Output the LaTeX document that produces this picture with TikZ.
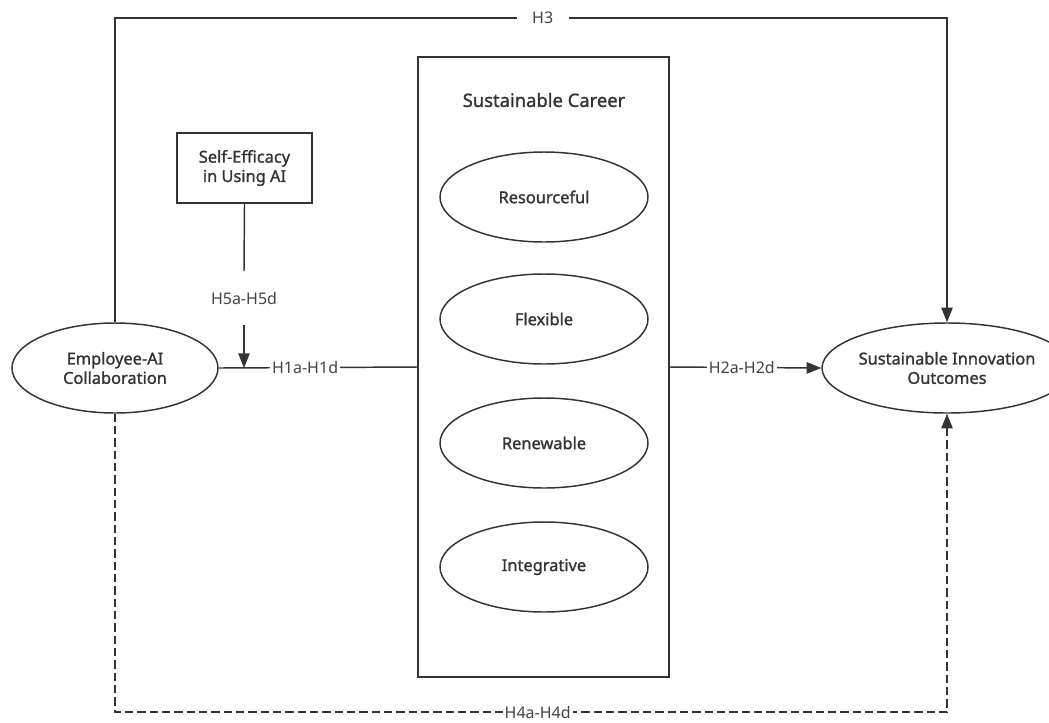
\documentclass[tikz,border=0pt]{standalone}
\usepackage{fontspec}
\setmainfont{Noto Sans}
\newfontfamily\medfont[FakeBold=1.2]{Noto Sans}
\usetikzlibrary{arrows.meta,shapes.geometric}
\definecolor{ink}{HTML}{333333}
\definecolor{labink}{HTML}{444444}
\begin{document}
\begin{tikzpicture}[x=0.75pt,y=-0.75pt,
  conn/.style={draw=ink,line width=1.1pt},
  tip/.style={-{Triangle[length=11pt,width=8.5pt]}},
  dsh/.style={dash pattern=on 6.25pt off 3pt},
  oval/.style={ellipse,draw=ink,line width=1.1pt,inner sep=0pt,align=center,text=ink,font=\medfont\fontsize{12.3}{14.5}\selectfont},
  sq/.style={rectangle,draw=ink,line width=1.1pt,inner sep=0pt,align=center,text=ink,font=\medfont\fontsize{12.3}{14.5}\selectfont},
  lab/.style={fill=white,text=labink,inner xsep=1.5pt,inner ysep=1pt,font=\fontsize{12}{14}\selectfont}]
\useasboundingbox (0,0) rectangle (1049,722);
\fill[white] (0,0) rectangle (1049,722);

% Sustainable Career block
\node[sq,minimum width=188.25pt,minimum height=465pt] (car) at (543.5,367) {};
\node[text=ink,font=\medfont\fontsize{13.8}{16}\selectfont] (cart) at (544,100) {Sustainable Career};
\node[oval,minimum width=156pt,minimum height=67.5pt] (res) at (544,197) {Resourceful};
\node[oval,minimum width=156pt,minimum height=67.5pt] (flx) at (544,319) {Flexible};
\node[oval,minimum width=156pt,minimum height=67.5pt] (ren) at (544,443) {Renewable};
\node[oval,minimum width=156pt,minimum height=67.5pt] (int) at (544,567) {Integrative};

% outer constructs
\node[oval,minimum width=154.5pt,minimum height=67.5pt] (emp) at (115,368) {Employee-AI\\Collaboration};
\node[oval,minimum width=151.5pt,minimum height=67.5pt] (sio) at (947,368) {Sustainable Innovation\\Outcomes};
\node[sq,minimum width=101.25pt,minimum height=52.5pt] (se) at (244.5,168) {Self-Efficacy\\in Using AI};

% coordinates
\coordinate (top) at (0,18);
\coordinate (bot) at (0,712);
\coordinate (j) at (244,368);

% H1
\draw[conn] (emp.east) -- node[lab,pos=0.435] (h1) {H1a-H1d} (car.west);
% H2
\draw[conn,tip] (car.east) -- node[lab,pos=0.475] (h2) {H2a-H2d} (sio.west);
% H5 moderation
\node[lab,minimum height=39.75pt,inner ysep=0pt] (h5) at (244,298) {H5a-H5d};
\draw[conn] (se.south) -- (h5.north);
\draw[conn,tip] (h5.south) -- (j);
% H3
\draw[conn,tip] (emp.north) -- (emp.north |- top) -- node[lab,pos=0.514,inner xsep=11.6pt] (h3) {H3} (sio.north |- top) -- (sio.north);
% H4
\draw[conn,dsh,tip] (emp.south) -- (emp.south |- bot) -- node[lab,pos=0.508] (h4) {H4a-H4d} (sio.south |- bot) -- (sio.south);
\end{tikzpicture}
\end{document}
